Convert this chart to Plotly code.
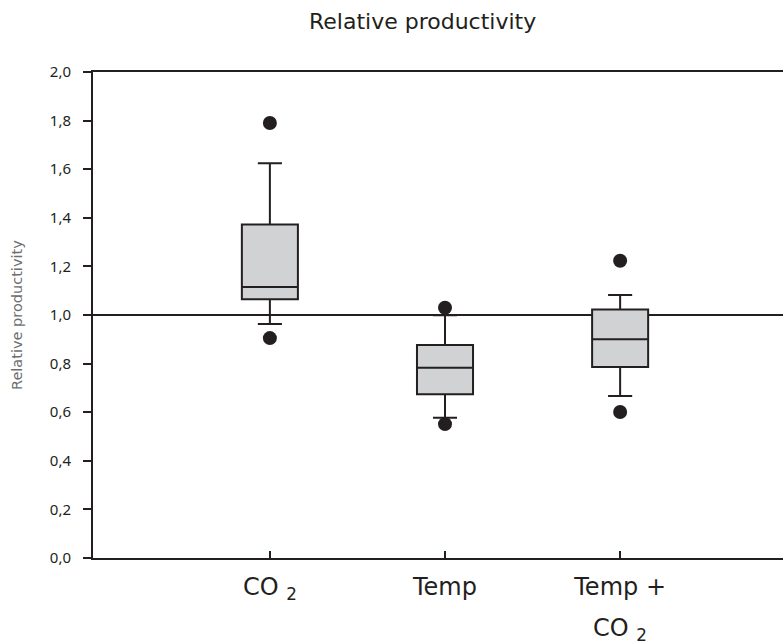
import plotly.graph_objects as go

categories = ["CO2", "Temp", "Temp + CO2"]
tick_labels = ["CO <sub>2</sub>", "Temp", "Temp +"]
tick_label_second_line = ["", "", "CO <sub>2</sub>"]
q1 = [1.065, 0.674, 0.786]
median = [1.115, 0.783, 0.900]
q3 = [1.372, 0.877, 1.023]
lowerfence = [0.963, 0.577, 0.667]
upperfence = [1.625, 0.999, 1.082]
outlier_x = ["CO2", "CO2", "Temp", "Temp", "Temp + CO2", "Temp + CO2"]
outlier_y = [1.79, 0.905, 1.03, 0.551, 1.223, 0.601]
y_ticks = [0.0, 0.2, 0.4, 0.6, 0.8, 1.0, 1.2, 1.4, 1.6, 1.8, 2.0]
reference_value = 1.0

dark = "#231f20"
fig = go.Figure()
fig.add_trace(go.Box(
    x=categories, q1=q1, median=median, q3=q3,
    lowerfence=lowerfence, upperfence=upperfence,
    fillcolor="#d1d2d4", line=dict(color=dark, width=2),
    width=0.32, whiskerwidth=0.43, boxpoints=False, showlegend=False,
    hoverinfo="skip",
))
fig.add_trace(go.Scatter(
    x=outlier_x, y=outlier_y, mode="markers",
    marker=dict(color=dark, size=14), showlegend=False,
))
fig.add_shape(type="line", xref="paper", x0=0, x1=1, yref="y",
              y0=reference_value, y1=reference_value,
              line=dict(color=dark, width=2), layer="below")

annotations = [
    dict(text="Relative productivity", xref="paper", yref="paper",
         x=(422 - 93) / 690, y=1, yshift=51, showarrow=False,
         font=dict(size=22, color=dark), xanchor="center", yanchor="middle"),
    dict(text="Relative productivity", xref="paper", yref="paper",
         x=0, y=0.5, xshift=-76, showarrow=False, textangle=-90,
         font=dict(size=14.5, color="#6d6e70"), xanchor="center", yanchor="middle"),
]
for cat, extra in zip(categories, tick_label_second_line):
    if extra:
        annotations.append(dict(text=extra, xref="x", yref="paper", x=cat, y=0,
                                yshift=-71, showarrow=False,
                                font=dict(size=24, color=dark),
                                xanchor="center", yanchor="middle"))

fig.update_layout(
    width=783, height=641,
    margin=dict(l=93, r=0, t=72, b=83),
    paper_bgcolor="white", plot_bgcolor="white",
    separators=",.",
    font=dict(family="DejaVu Sans", color=dark),
    showlegend=False,
    annotations=annotations,
)
fig.update_xaxes(
    type="category", categoryorder="array", categoryarray=categories,
    tickvals=categories, ticktext=tick_labels,
    range=[-1.01, 2.93],
    showline=True, linecolor=dark, linewidth=2, mirror=True,
    ticks="inside", ticklen=7, tickwidth=1.5, tickcolor=dark,
    showgrid=False, zeroline=False,
    tickfont=dict(size=24, color=dark), ticklabelstandoff=6,
)
fig.update_yaxes(
    range=[0, 2], tickvals=y_ticks, tickformat=".1f",
    showline=True, linecolor=dark, linewidth=2,
    ticks="outside", ticklen=8, tickwidth=2, tickcolor=dark,
    showgrid=False, zeroline=False,
    tickfont=dict(size=15, color=dark, family="Noto Sans"), ticklabelstandoff=9,
)

fig.write_html("out.html")
